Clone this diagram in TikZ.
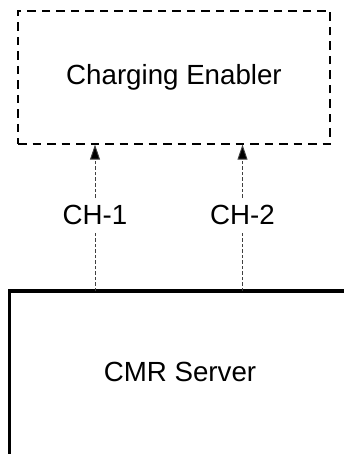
\documentclass[tikz,border=0pt]{standalone}
\usepackage{fontspec}
\setmainfont{Liberation Sans}
\usetikzlibrary{arrows.meta}
\tikzset{
    enabler/.style={draw, line width=1.3pt, dash pattern=on 8.5pt off 6pt,
        minimum width=312pt, minimum height=133pt, inner sep=0pt},
    link/.style={line width=0.9pt, draw=black!75, dash pattern=on 3.5pt off 2pt,
        -{Triangle[length=15pt,width=10pt,fill=black]}},
    lbl/.style={fill=white, inner sep=7pt},
    server/.style={line width=3.4pt}
}
\begin{document}
\begin{tikzpicture}[x=1pt,y=-1pt]
    \useasboundingbox (0,0) rectangle (344,454);
    \fontsize{27.7}{33}\selectfont

    \node[enabler] (enabler) at (174,77.5) {Charging Enabler};

    \draw[server] (346,291) -- (9.5,291) -- (9.5,456);
    \node[anchor=base] (cmr) at (180,381.5) {CMR Server};

    \coordinate (p1) at (95,291);
    \coordinate (p2) at (242.5,291);
    \draw[link] (p1) -- node[lbl, pos=.52] (ch1) {CH-1} (p1 |- enabler.south);
    \draw[link] (p2) -- node[lbl, pos=.52] (ch2) {CH-2} (p2 |- enabler.south);
\end{tikzpicture}
\end{document}
